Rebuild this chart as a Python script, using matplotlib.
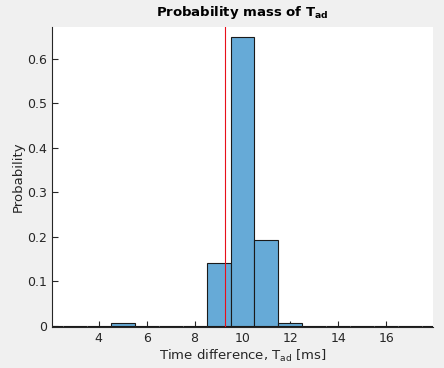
import matplotlib.pyplot as plt
import numpy as np

# bin centers (ms) and probability mass
bin_centers = [2, 3, 4, 5, 6, 7, 8, 9, 10, 11, 12, 13, 14, 15, 16, 17, 18]
probabilities = [0, 0, 0, 0.006, 0, 0, 0, 0.142, 0.65, 0.193, 0.006, 0, 0, 0, 0, 0, 0]
mean_value = 9.29

x_ticks = [4, 6, 8, 10, 12, 14, 16]
y_ticks = [0, 0.1, 0.2, 0.3, 0.4, 0.5, 0.6]
y_ticklabels = ['0', '0.1', '0.2', '0.3', '0.4', '0.5', '0.6']

plt.rcParams['mathtext.default'] = 'regular'

fig = plt.figure(figsize=(4.44, 3.68), dpi=100, facecolor='#f0f0f0')
ax = fig.add_axes([52 / 444, 1 - 327 / 368, 381 / 444, 300 / 368])

ax.bar(bin_centers, probabilities, width=1.0, color='#66aad7',
       edgecolor='#1a1a1a', linewidth=0.8, zorder=2)
ax.axvline(mean_value, color='#e8101a', linewidth=0.8, zorder=3)

ax.set_xlim(2.05, 17.95)
ax.set_ylim(-0.003, 0.672)
ax.set_xticks(x_ticks)
ax.set_yticks(y_ticks)
ax.set_yticklabels(y_ticklabels)

for side in ['top', 'right']:
    ax.spines[side].set_visible(False)
for side in ['left', 'bottom']:
    ax.spines[side].set_color('#262626')
    ax.spines[side].set_linewidth(0.8)
ax.tick_params(direction='in', length=4, width=0.8, colors='#262626', labelsize=9)

ax.set_xlabel('Time difference, T$_{ad}$ [ms]', fontsize=9.5, color='#262626', labelpad=2)
ax.set_ylabel('Probability', fontsize=9.5, color='#262626', labelpad=2)
ax.set_title('Probability mass of T$_{ad}$', fontsize=9.5, fontweight='bold', pad=8)

fig.savefig('out.png', dpi=100, facecolor=fig.get_facecolor())
